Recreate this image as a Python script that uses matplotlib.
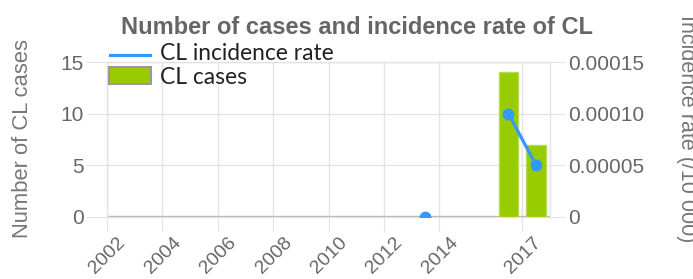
import numpy as np
import matplotlib
matplotlib.use("Agg")
import matplotlib.pyplot as plt
import matplotlib.transforms as mtrans
from matplotlib.lines import Line2D
from matplotlib.patches import Rectangle

# ---- data ----
case_years = [2016.5, 2017.5]
cases = [14, 7]
rate_years = [2013.5, 2014.5, 2015.5, 2016.5, 2017.5]
rates = [0.0, np.nan, np.nan, 0.00010, 0.00005]
xticks = [2002, 2004, 2006, 2008, 2010, 2012, 2014, 2017]
left_ticks = [0, 5, 10, 15]
right_ticks = [0, 0.00005, 0.00010, 0.00015]
right_labels = ["0", "0.00005", "0.00010", "0.00015"]
title = "Number of cases and incidence rate of CL"

W, H = 693, 279
fig = plt.figure(figsize=(W / 100, H / 100), dpi=100)
plt.rcParams['font.family'] = ['Liberation Sans', 'DejaVu Sans']

GRID = '#e3e3e3'
TXT = '#666666'
GREEN = '#99cc00'
BLUE = '#3399ff'

x0, x1, ytop, ybot = 107, 550, 62, 217
ax = fig.add_axes([x0 / W, 1 - ybot / H, (x1 - x0) / W, (ybot - ytop) / H])
ax.set_xlim(2002, 2018)
ax.set_ylim(0, 15)
ax.set_xticks(xticks)
ax.set_xticklabels([str(t) for t in xticks])
ax.set_yticks(left_ticks)
ax.grid(True, color=GRID, lw=1)
ax.set_axisbelow(True)
for s in ax.spines.values():
    s.set_color(GRID)
    s.set_linewidth(1)
ax.tick_params(axis='y', length=15, color=GRID, labelsize=15, labelcolor=TXT, pad=2)
ax.tick_params(axis='x', length=10, color=GRID, labelsize=14, labelcolor=TXT, pad=2)
for lab in ax.get_xticklabels():
    lab.set_rotation(45)
    lab.set_ha('right')
    lab.set_va('center')
    lab.set_rotation_mode('anchor')
    lab.set_transform(lab.get_transform() + mtrans.ScaledTranslation(16 / 100, -6 / 100, fig.dpi_scale_trans))

ax.axhline(0, color='#b3b3b3', lw=2.4, zorder=2)
ax.bar(case_years, cases, width=0.72, color=GREEN, edgecolor='#b5d955', lw=1, zorder=3)

ax2 = ax.twinx()
ax2.set_ylim(0, 0.00015)
ax2.set_yticks(right_ticks)
ax2.set_yticklabels(right_labels)
ax2.tick_params(axis='y', length=11, color=GRID, labelsize=15, labelcolor=TXT, pad=2)
for s in ax2.spines.values():
    s.set_visible(False)
ax2.plot(rate_years, rates, color=BLUE, lw=2.3, marker='o', ms=7.5, zorder=5)

fig.text(23 / W, 1 - 138 / H, "Number of CL cases", rotation=90,
         ha='center', va='center', fontsize=15.8, color='#777777')
fig.text(687 / W, 1 - 129 / H, "Incidence rate (/10 000)", rotation=270,
         ha='center', va='center', fontsize=15.5, color='#777777')

fig.text(357 / W, 1 - 27 / H, title, ha='center', va='center',
         fontsize=17, fontweight='bold', color=TXT)

# legend
fig.add_artist(Line2D([110 / W, 150 / W], [1 - 55 / H, 1 - 55 / H], color=BLUE, lw=2.3,
                      transform=fig.transFigure))
fig.add_artist(Rectangle((109 / W, 1 - 84 / H), 42 / W, 17 / H, facecolor=GREEN,
                         edgecolor='#999999', lw=1.5, transform=fig.transFigure))
fig.text(160 / W, 1 - 53 / H, "CL incidence rate", ha='left', va='center',
         fontsize=16.4, color='#222222', family=['Lato', 'DejaVu Sans'])
fig.text(160 / W, 1 - 77 / H, "CL cases", ha='left', va='center',
         fontsize=16.4, color='#222222', family=['Lato', 'DejaVu Sans'])

fig.savefig("out.png", dpi=100)
